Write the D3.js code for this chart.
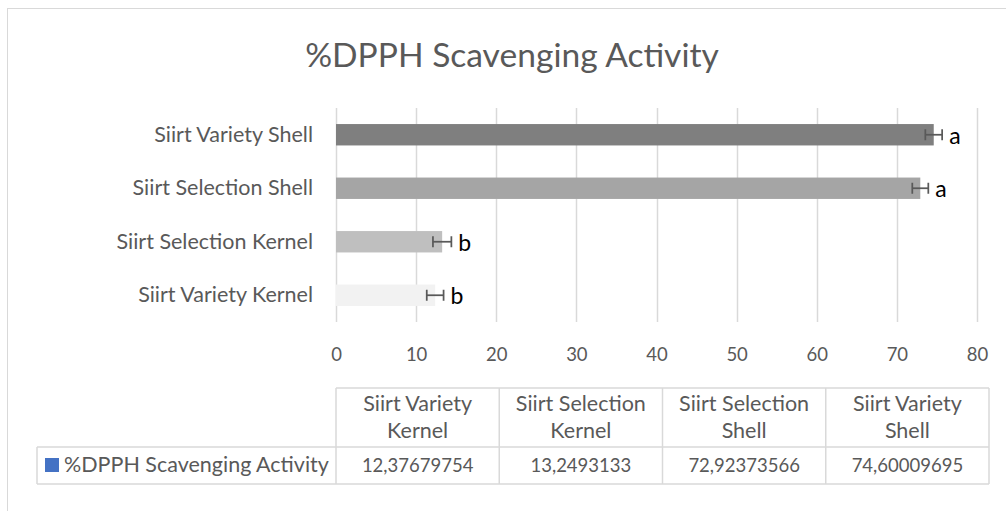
<!DOCTYPE html>
<html>
<head>
<meta charset="utf-8">
<script src="https://cdn.jsdelivr.net/npm/d3@7"></script>
<style>
  body { margin: 0; background: #fff; }
  text { font-family: Lato, "Open Sans", sans-serif; }
</style>
</head>
<body>
<script>
var categories = ["Siirt Variety Kernel", "Siirt Selection Kernel", "Siirt Selection Shell", "Siirt Variety Shell"];
var values = [12.37679754, 13.2493133, 72.92373566, 74.60009695];
var valueLabels = ["12,37679754", "13,2493133", "72,92373566", "74,60009695"];
var errors = [1.05, 1.15, 1.0, 1.05];
var letters = ["b", "b", "a", "a"];
var barColors = ["#f2f2f2", "#bfbfbf", "#a5a5a5", "#7f7f7f"];
var xTicks = [0, 10, 20, 30, 40, 50, 60, 70, 80];
var seriesName = "%DPPH Scavenging Activity";

var width = 1006, height = 511;
var plot = {left: 336, right: 977, top: 108, bottom: 322};
var txt = "#595959";
var wordSize = 21.5, digitSize = 18.5;

var svg = d3.select("body").append("svg")
  .attr("width", width)
  .attr("height", height);

// chart border
svg.append("rect")
  .attr("x", 7.5).attr("y", 8.5)
  .attr("width", 1010).attr("height", 520)
  .attr("fill", "none")
  .attr("stroke", "#d9d9d9");

svg.append("text")
  .attr("x", 512).attr("y", 67)
  .attr("text-anchor", "middle")
  .attr("font-size", 33.6)
  .attr("fill", txt)
  .text(seriesName);

var x = d3.scaleLinear().domain([0, 80]).range([plot.left, plot.right]);
var y = d3.scaleBand()
  .domain(categories.slice().reverse())
  .range([plot.top, plot.bottom])
  .paddingInner(0.6)
  .paddingOuter(0.3);

// gridlines
svg.append("g").selectAll("line")
  .data(xTicks)
  .enter().append("line")
  .attr("x1", d => Math.round(x(d)) + 0.5)
  .attr("x2", d => Math.round(x(d)) + 0.5)
  .attr("y1", plot.top)
  .attr("y2", plot.bottom)
  .attr("stroke", "#d9d9d9")
  .attr("stroke-width", 1.5);

// x axis labels
var xAxis = svg.append("g")
  .attr("transform", "translate(0," + plot.bottom + ")")
  .call(d3.axisBottom(x).tickValues(xTicks).tickSize(0).tickPadding(26));
xAxis.select(".domain").remove();
xAxis.selectAll("text")
  .attr("font-size", digitSize)
  .attr("font-family", "Lato, 'Open Sans', sans-serif")
  .attr("fill", txt);

// category labels
var yAxis = svg.append("g")
  .attr("transform", "translate(" + plot.left + ",0)")
  .call(d3.axisLeft(y).tickSize(0).tickPadding(23));
yAxis.select(".domain").remove();
yAxis.selectAll("text")
  .attr("font-size", wordSize)
  .attr("font-family", "Lato, 'Open Sans', sans-serif")
  .attr("fill", txt);

var rows = categories.map((c, i) => ({cat: c, v: values[i], e: errors[i], l: letters[i], col: barColors[i]}));

svg.append("g").selectAll("rect")
  .data(rows)
  .enter().append("rect")
  .attr("x", x(0))
  .attr("y", d => y(d.cat))
  .attr("width", d => x(d.v) - x(0))
  .attr("height", y.bandwidth())
  .attr("fill", d => d.col);

// error bars
var eb = svg.append("g").selectAll("g")
  .data(rows)
  .enter().append("g")
  .attr("stroke", "#595959")
  .attr("stroke-width", 1.75);
eb.append("line")
  .attr("x1", d => x(d.v - d.e)).attr("x2", d => x(d.v + d.e))
  .attr("y1", d => y(d.cat) + y.bandwidth() / 2)
  .attr("y2", d => y(d.cat) + y.bandwidth() / 2);
eb.selectAll("line.cap")
  .data(d => [[d, d.v - d.e], [d, d.v + d.e]])
  .enter().append("line")
  .attr("class", "cap")
  .attr("x1", p => x(p[1])).attr("x2", p => x(p[1]))
  .attr("y1", p => y(p[0].cat) + y.bandwidth() / 2 - 5.5)
  .attr("y2", p => y(p[0].cat) + y.bandwidth() / 2 + 5.5);

// significance letters
svg.append("g").selectAll("text")
  .data(rows)
  .enter().append("text")
  .attr("x", d => x(d.v + d.e) + 7)
  .attr("y", d => y(d.cat) + y.bandwidth() / 2)
  .attr("dy", "0.4em")
  .attr("font-size", 23)
  .attr("fill", "#000")
  .text(d => d.l);

// data table
var tbl = {left: 37, x0: 336, x1: 989, top: 388, mid: 447, bottom: 484};
var colX = d3.scaleBand().domain(categories).range([tbl.x0, tbl.x1]);
var tg = svg.append("g")
  .attr("stroke", "#d9d9d9")
  .attr("stroke-width", 1.5);
tg.append("line").attr("x1", tbl.x0).attr("x2", tbl.x1).attr("y1", tbl.top).attr("y2", tbl.top);
tg.append("line").attr("x1", tbl.left).attr("x2", tbl.x1).attr("y1", tbl.mid).attr("y2", tbl.mid);
tg.append("line").attr("x1", tbl.left).attr("x2", tbl.x1).attr("y1", tbl.bottom).attr("y2", tbl.bottom);
tg.append("line").attr("x1", tbl.left).attr("x2", tbl.left).attr("y1", tbl.mid).attr("y2", tbl.bottom);
tg.selectAll("line.v")
  .data(categories.concat(["end"]))
  .enter().append("line")
  .attr("class", "v")
  .attr("x1", d => d === "end" ? tbl.x1 : colX(d))
  .attr("x2", d => d === "end" ? tbl.x1 : colX(d))
  .attr("y1", tbl.top).attr("y2", tbl.bottom);

// header text (two lines)
var head = svg.append("g").selectAll("text")
  .data(categories)
  .enter().append("text")
  .attr("x", d => colX(d) + colX.bandwidth() / 2)
  .attr("text-anchor", "middle")
  .attr("font-size", wordSize)
  .attr("fill", txt);
head.append("tspan")
  .attr("x", d => colX(d) + colX.bandwidth() / 2)
  .attr("y", 411)
  .text(d => d.split(" ").slice(0, 2).join(" "));
head.append("tspan")
  .attr("x", d => colX(d) + colX.bandwidth() / 2)
  .attr("y", 438)
  .text(d => d.split(" ").slice(2).join(" "));

svg.append("g").selectAll("text")
  .data(categories)
  .enter().append("text")
  .attr("x", d => colX(d) + colX.bandwidth() / 2)
  .attr("y", 472)
  .attr("text-anchor", "middle")
  .attr("font-size", digitSize)
  .attr("fill", txt)
  .text((d, i) => valueLabels[i]);

// legend key in table
svg.append("rect")
  .attr("x", 45).attr("y", 458)
  .attr("width", 14).attr("height", 14)
  .attr("fill", "#4472c4");
svg.append("text")
  .attr("x", 64).attr("y", 472)
  .attr("font-size", wordSize)
  .attr("fill", txt)
  .text(seriesName);
</script>
</body>
</html>
